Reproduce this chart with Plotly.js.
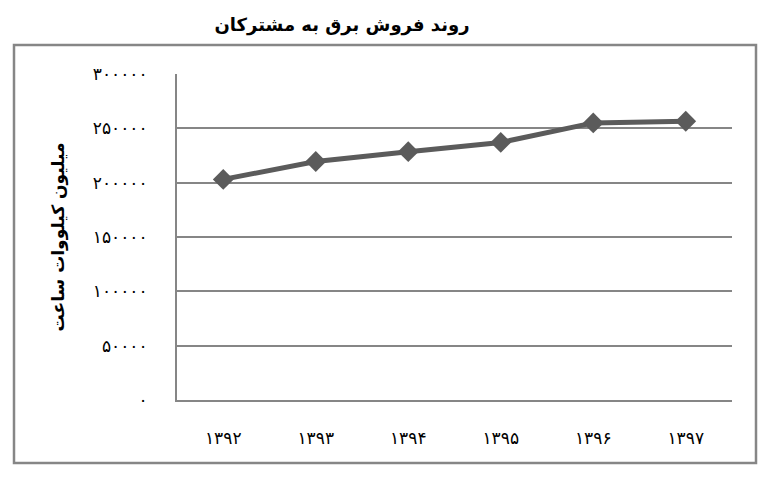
<!DOCTYPE html>
<html>
<head>
<meta charset="utf-8">
<script src="https://cdn.plot.ly/plotly-3.0.1.min.js"></script>
<style>html,body{margin:0;padding:0;background:#fff;}#chart{width:769px;height:478px;}</style>
</head>
<body>
<div id="chart"></div>
<script>
const years = ['۱۳۹۲', '۱۳۹۳', '۱۳۹۴', '۱۳۹۵', '۱۳۹۶', '۱۳۹۷'];
const sales = [203000, 219500, 228500, 237000, 255000, 256500];
const yTickVals = [0, 50000, 100000, 150000, 200000, 250000, 300000];
const yTickText = ['۰', '۵۰۰۰۰', '۱۰۰۰۰۰', '۱۵۰۰۰۰', '۲۰۰۰۰۰', '۲۵۰۰۰۰', '۳۰۰۰۰۰'];
const chartTitle = 'روند فروش برق به مشترکان';
const yTitle = 'میلیون کیلووات ساعت';

const xIdx = years.map((_, i) => i);
const grey = '#868686';
const fontFam = '"DejaVu Sans", "Noto Sans", sans-serif';

const trace = {
  x: xIdx,
  y: sales,
  type: 'scatter',
  mode: 'lines+markers',
  line: {color: '#5b5b5b', width: 5},
  marker: {symbol: 'diamond', size: 16, color: '#5b5b5b'},
  hoverinfo: 'skip'
};

const layout = {
  width: 769, height: 478,
  margin: {l: 177, r: 37, t: 74, b: 78},
  paper_bgcolor: '#fff', plot_bgcolor: '#fff',
  showlegend: false,
  font: {family: fontFam, color: '#000'},
  title: {text: '<b>' + chartTitle + '</b>', font: {size: 18, family: fontFam, color: '#000'},
          xref: 'container', x: 342/769, xanchor: 'center', yref: 'container', y: 1 - 25/478, yanchor: 'middle'},
  xaxis: {
    range: [-0.5, 5.5], tickmode: 'array', tickvals: xIdx, ticktext: years,
    showgrid: false, zeroline: false, showline: true, linecolor: grey, linewidth: 2,
    ticks: '', ticklabelstandoff: 22, tickfont: {size: 17, family: fontFam, color: '#000'}
  },
  yaxis: {
    range: [0, 300000], tickmode: 'array', tickvals: yTickVals, ticktext: yTickText,
    showgrid: true, gridcolor: grey, gridwidth: 2, zeroline: false,
    showline: true, linecolor: grey, linewidth: 2, ticks: '', ticklabelstandoff: 24,
    tickfont: {size: 17, family: fontFam, color: '#000'},
    title: {text: '<b>' + yTitle + '</b>', font: {size: 17, family: fontFam, color: '#000'}, standoff: 24}
  },
  shapes: [{
    type: 'rect', xref: 'paper', yref: 'paper',
    x0: (14-177)/555, x1: (756-177)/555, y0: (400-463)/326, y1: (400-45)/326,
    line: {color: grey, width: 2.5}, fillcolor: 'rgba(0,0,0,0)', layer: 'below'
  }]
};

Plotly.newPlot('chart', [trace], layout, {displayModeBar: false, staticPlot: true});
</script>
</body>
</html>
